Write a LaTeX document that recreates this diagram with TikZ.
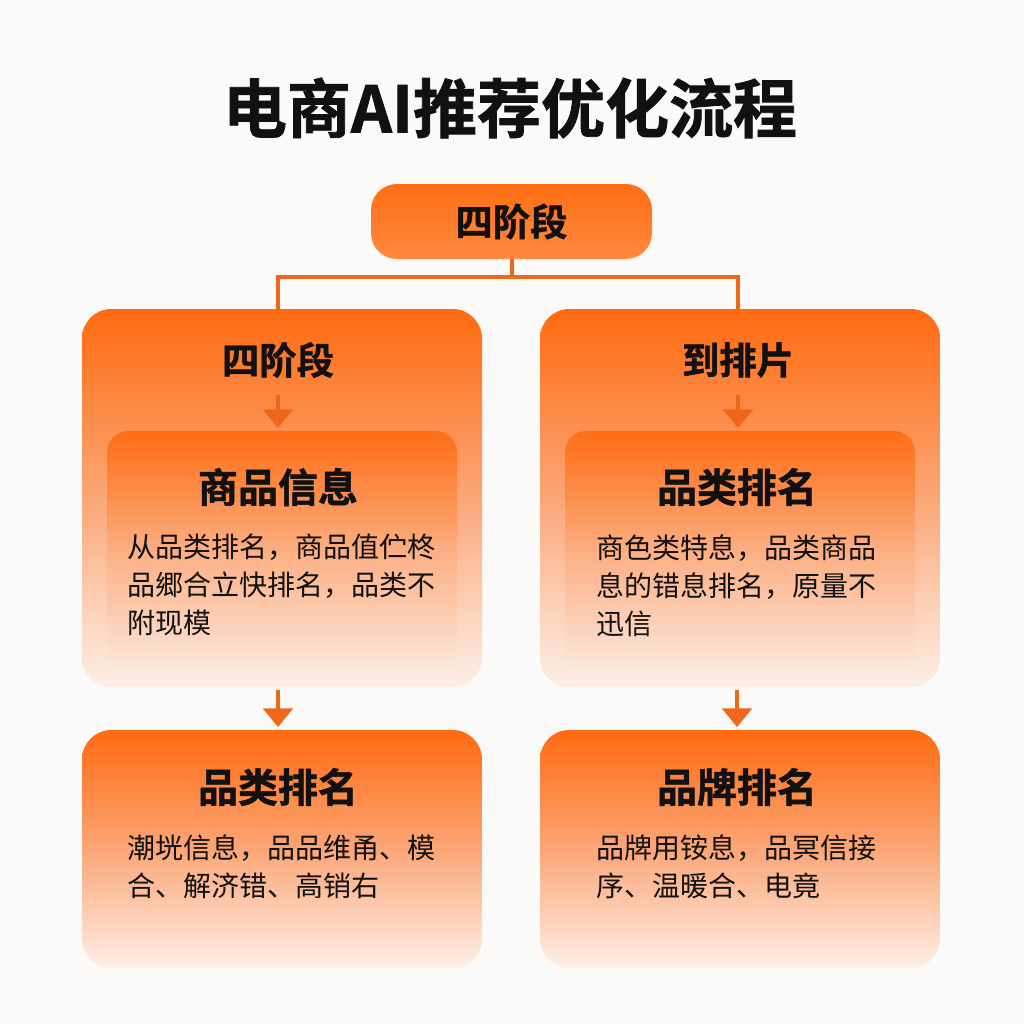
\documentclass[tikz,border=0pt]{standalone}
\usepackage{fontspec}
\setmainfont{Noto Sans CJK SC}[BoldFont={Noto Sans CJK SC Bold}]
\newfontfamily\heavyfont{Noto Sans CJK SC Bold}[FakeBold=1.2]
\usetikzlibrary{arrows.meta,fadings,calc}
\definecolor{bg}{HTML}{FBFAF9}
\definecolor{ink}{HTML}{111111}
\definecolor{conn}{HTML}{F0661A}
\definecolor{o1}{HTML}{FF6A10}
\definecolor{o2}{HTML}{FBA677}
\definecolor{o3}{HTML}{FDEFE7}
\definecolor{t1}{HTML}{FF6E12}
\definecolor{t2}{HTML}{FF8A42}
\definecolor{i1}{HTML}{FF6E16}
\definecolor{i2}{HTML}{FCAE80}
\tikzfading[name=fadesouth, top color=transparent!0, bottom color=transparent!100, middle color=transparent!75]
\begin{document}
\begin{tikzpicture}[x=0.75pt,y=-0.75pt,
  box/.style={rectangle, inner sep=0pt, minimum width=300pt},
  outerbox/.style={box, rounded corners=22pt, minimum height=283.5pt,
     top color=o1, bottom color=o3, middle color=o2},
  lowbox/.style={box, rounded corners=22pt, minimum height=178.5pt,
     top color=o1, bottom color=o3, middle color=o2},
  innerbox/.style={rectangle, inner sep=0pt, rounded corners=16pt,
     minimum width=262.5pt, minimum height=180pt,
     top color=i1, bottom color=i2, path fading=fadesouth},
  topbox/.style={rectangle, inner sep=0pt, rounded corners=19.5pt,
     minimum width=210.75pt, minimum height=56.25pt,
     top color=t1, bottom color=t2, text=ink,
     font=\fontsize{28pt}{30pt}\heavyfont},
  hdr/.style={inner sep=0pt, text=ink, font=\fontsize{28pt}{30pt}\heavyfont},
  ttl/.style={inner sep=0pt, text=ink, font=\fontsize{30pt}{32pt}\heavyfont},
  body/.style={inner sep=0pt, text=ink, anchor=north west, align=left,
     font=\fontsize{21pt}{28.5pt}\selectfont},
  link/.style={draw=conn, line width=3pt},
  arr/.style={draw=conn, line width=3pt, -{Triangle[width=22pt,length=14pt]}}
]
\fill[bg] (0,0) rectangle (1024,1024);
\useasboundingbox (0,0) rectangle (1024,1024);

% title
\node[inner sep=0pt, text=ink, font=\fontsize{48pt}{50pt}\heavyfont] (title) at (510,108) {电商AI推荐优化流程};

% top node
\node[topbox] (top) at (511.5,221.5) {四阶段};

% outer boxes
\node[outerbox] (L) at (282,498) {};
\node[outerbox] (R) at (740,498) {};
% inner boxes
\node[innerbox] (Li) at (282,551) {};
\node[innerbox] (Ri) at (740,551) {};
% lower boxes
\node[lowbox] (LB) at (282,849) {};
\node[lowbox] (RB) at (740,849) {};

% connectors from top
\coordinate (split) at (511.5,277);
\coordinate (splitL) at (278,277);
\coordinate (splitR) at (738,277);
\draw[link] (top.south) -- (split);
\draw[link, line join=miter] (L.north -| splitL) -- (splitL) -- (splitR) -- (R.north -| splitR);

% headers
\node[hdr] (Lh) at (278,360) {四阶段};
\node[hdr] (Rh) at (738,360) {到排片};

% inner titles
\node[ttl] (Lt) at (278,487) {商品信息};
\node[ttl] (Rt) at (737,487) {品类排名};

% inner bodies
\node[body] (Lbody) at (127,534) {从品类排名，商品值伫柊\\品郷合立快排名，品类不\\附现模};
\node[body] (Rbody) at (596,534) {商色类特息，品类商品\\息的错息排名，原量不\\迅信};

% lower titles
\node[ttl] (LBt) at (278,787) {品类排名};
\node[ttl] (RBt) at (737,787) {品牌排名};

% lower bodies
\node[body] (LBbody) at (127,834) {潮垙信息，品品维甬、模\\合、解济错、高销右};
\node[body] (RBbody) at (596,834) {品牌用铵息，品冥信接\\序、温暖合、电竟};

% arrows
\draw[arr, shorten <=13pt, shorten >=2pt] (Lh.south) -- (Li.north -| Lh.south);
\draw[arr, shorten <=13pt, shorten >=2pt] (Rh.south) -- (Ri.north -| Rh.south);
\draw[arr, shorten <=2pt, shorten >=2pt] (L.south -| LBt.north) -- (LB.north -| LBt.north);
\draw[arr, shorten <=2pt, shorten >=2pt] (R.south -| RBt.north) -- (RB.north -| RBt.north);
\end{tikzpicture}
\end{document}
